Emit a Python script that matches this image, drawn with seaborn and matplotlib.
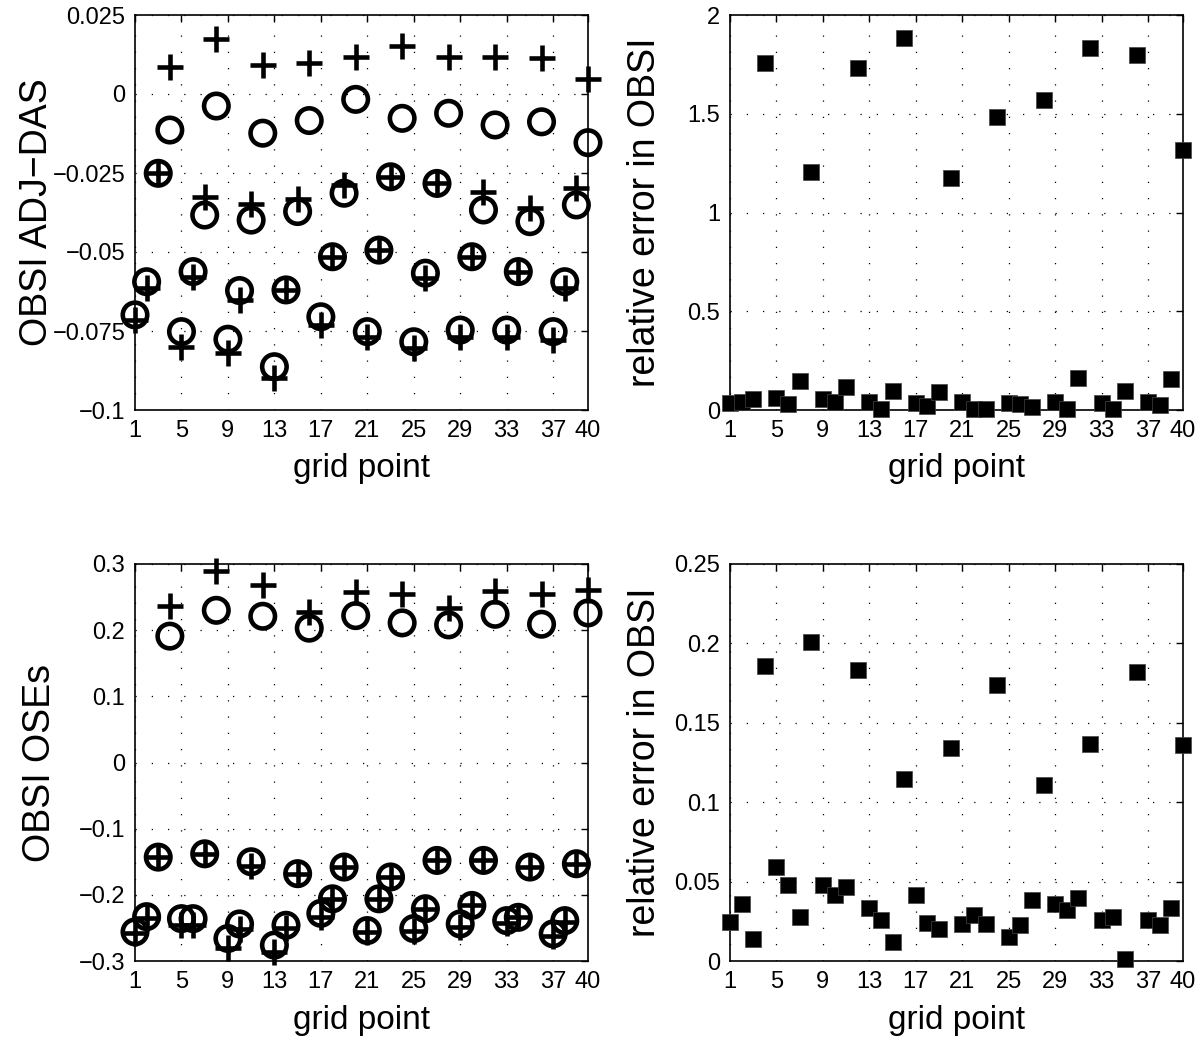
import matplotlib
matplotlib.use("Agg")
import matplotlib.pyplot as plt
import seaborn as sns
import numpy as np
import pandas as pd

# grid points 1..40
grid = list(range(1, 41))

# top left: OBSI ADJ-DAS, two estimates per grid point
adj_plus = [-0.0715, -0.0614, -0.0251, 0.0086, -0.0800, -0.0578, -0.0325, 0.0173,
            -0.0821, -0.0652, -0.0348, 0.0092, -0.0900, -0.0620, -0.0333, 0.0097,
            -0.0731, -0.0515, -0.0288, 0.0116, -0.0768, -0.0494, -0.0262, 0.0152,
            -0.0805, -0.0583, -0.0283, 0.0118, -0.0768, -0.0515, -0.0309, 0.0116,
            -0.0768, -0.0562, -0.0362, 0.0113, -0.0778, -0.0615, -0.0298, 0.0046]
adj_circ = [-0.0699, -0.0594, -0.0251, -0.0114, -0.0752, -0.0562, -0.0383, -0.0038,
            -0.0776, -0.0622, -0.0399, -0.0124, -0.0863, -0.0620, -0.0372, -0.0084,
            -0.0705, -0.0515, -0.0314, -0.0017, -0.0752, -0.0494, -0.0262, -0.0077,
            -0.0784, -0.0567, -0.0283, -0.0061, -0.0747, -0.0515, -0.0367, -0.0098,
            -0.0747, -0.0562, -0.0404, -0.0088, -0.0752, -0.0594, -0.0351, -0.0154]

# top right: relative error
rel_adj = [0.037, 0.042, 0.054, 1.755, 0.059, 0.030, 0.148, 1.207,
           0.056, 0.042, 0.118, 1.730, 0.042, 0.004, 0.098, 1.885,
           0.037, 0.020, 0.093, 1.176, 0.042, 0.004, 0.004, 1.482,
           0.037, 0.032, 0.017, 1.570, 0.042, 0.004, 0.160, 1.835,
           0.034, 0.004, 0.098, 1.797, 0.042, 0.025, 0.155, 1.316]

# bottom left: OBSI OSEs
ose_plus = [-0.258, -0.235, -0.143, 0.237, -0.245, -0.245, -0.138, 0.290,
            -0.280, -0.252, -0.157, 0.269, -0.286, -0.250, -0.168, 0.228,
            -0.233, -0.206, -0.158, 0.257, -0.256, -0.206, -0.173, 0.254,
            -0.254, -0.221, -0.148, 0.233, -0.249, -0.216, -0.148, 0.259,
            -0.242, -0.234, -0.158, 0.255, -0.262, -0.241, -0.153, 0.261]
ose_circ = [-0.256, -0.233, -0.143, 0.191, -0.236, -0.236, -0.138, 0.230,
            -0.266, -0.244, -0.150, 0.221, -0.276, -0.246, -0.168, 0.203,
            -0.228, -0.206, -0.158, 0.222, -0.254, -0.206, -0.173, 0.211,
            -0.251, -0.221, -0.148, 0.208, -0.244, -0.216, -0.148, 0.224,
            -0.239, -0.234, -0.158, 0.209, -0.259, -0.239, -0.153, 0.226]

# bottom right: relative error
rel_ose = [0.0246, 0.0362, 0.0141, 0.1855, 0.0593, 0.0478, 0.0278, 0.2009,
           0.0478, 0.0415, 0.0467, 0.1834, 0.0331, 0.0257, 0.0120, 0.1144,
           0.0415, 0.0238, 0.0204, 0.1340, 0.0236, 0.0288, 0.0236, 0.1740,
           0.0152, 0.0225, 0.0387, 0.1109, 0.0362, 0.0320, 0.0394, 0.1367,
           0.0257, 0.0278, 0.0015, 0.1823, 0.0257, 0.0225, 0.0331, 0.1360]

xticks = [1, 5, 9, 13, 17, 21, 25, 29, 33, 37, 40]
adj_ticks = [-0.1, -0.075, -0.05, -0.025, 0, 0.025]
adj_labels = ["\u22120.1", "\u22120.075", "\u22120.05", "\u22120.025", "0", "0.025"]
rel_adj_ticks = [0, 0.5, 1, 1.5, 2]
rel_adj_labels = ["0", "0.5", "1", "1.5", "2"]
ose_ticks = [-0.3, -0.2, -0.1, 0, 0.1, 0.2, 0.3]
ose_labels = ["\u22120.3", "\u22120.2", "\u22120.1", "0", "0.1", "0.2", "0.3"]
rel_ose_ticks = [0, 0.05, 0.1, 0.15, 0.2, 0.25]
rel_ose_labels = ["0", "0.05", "0.1", "0.15", "0.2", "0.25"]

sns.set_style("white")
plt.rcParams['font.family'] = ['Liberation Sans', 'DejaVu Sans']
plt.rcParams['text.color'] = 'black'
plt.rcParams['axes.labelcolor'] = 'black'

fig = plt.figure(figsize=(12.02, 10.46), dpi=100)
W, H = 1202, 1046


def make_ax(left, top, right, bottom):
    return fig.add_axes([left / W, 1 - bottom / H, (right - left) / W, (bottom - top) / H])


def style_ax(ax, yticks, ylabels, ylim, ylabel, ylab_x):
    ax.set_xlim(1, 40)
    ax.set_ylim(*ylim)
    ax.set_xticks(xticks)
    ax.set_xticklabels([str(t) for t in xticks])
    ax.set_yticks(yticks)
    ax.set_yticklabels(ylabels)
    ax.tick_params(direction="in", length=5, width=1, top=True, right=True,
                   labelsize=17, pad=7, colors="black", labelcolor="black")
    ax.grid(True, color="black", linestyle=(0, (1, 12)), linewidth=0.9)
    for s in ax.spines.values():
        s.set_color("black")
        s.set_linewidth(1.2)
    ax.set_xlabel("grid point", fontsize=24, color="black")
    ax.set_ylabel(ylabel, fontsize=27, color="black")
    ax.xaxis.set_label_coords(0.5, -0.11)
    ax.yaxis.set_label_coords(ylab_x, 0.5)


def plus_circle(ax, plus, circ):
    sns.scatterplot(x=grid, y=circ, ax=ax, marker="o", s=310, facecolor="none",
                    edgecolor="black", linewidth=3.3, clip_on=False, zorder=3)
    sns.scatterplot(x=grid, y=plus, ax=ax, marker="+", s=340, color="black",
                    linewidth=3.3, clip_on=False, zorder=4)


def squares(ax, vals):
    sns.scatterplot(x=grid, y=vals, ax=ax, marker="s", s=125, color="black",
                    edgecolor="#444444", linewidth=0.5, clip_on=False, zorder=3)


ax1 = make_ax(135, 15, 588, 410)
plus_circle(ax1, adj_plus, adj_circ)
style_ax(ax1, adj_ticks, adj_labels, (-0.1, 0.025), "OBSI ADJ\u2212DAS", -0.177)

ax2 = make_ax(730, 15, 1183, 410)
squares(ax2, rel_adj)
style_ax(ax2, rel_adj_ticks, rel_adj_labels, (0, 2), "relative error in OBSI", -0.148)

ax3 = make_ax(135, 564, 588, 961)
plus_circle(ax3, ose_plus, ose_circ)
style_ax(ax3, ose_ticks, ose_labels, (-0.3, 0.3), "OBSI OSEs", -0.17)

ax4 = make_ax(730, 564, 1183, 961)
squares(ax4, rel_ose)
style_ax(ax4, rel_ose_ticks, rel_ose_labels, (0, 0.25), "relative error in OBSI", -0.148)

fig.savefig("out.png", dpi=100, facecolor="white")
